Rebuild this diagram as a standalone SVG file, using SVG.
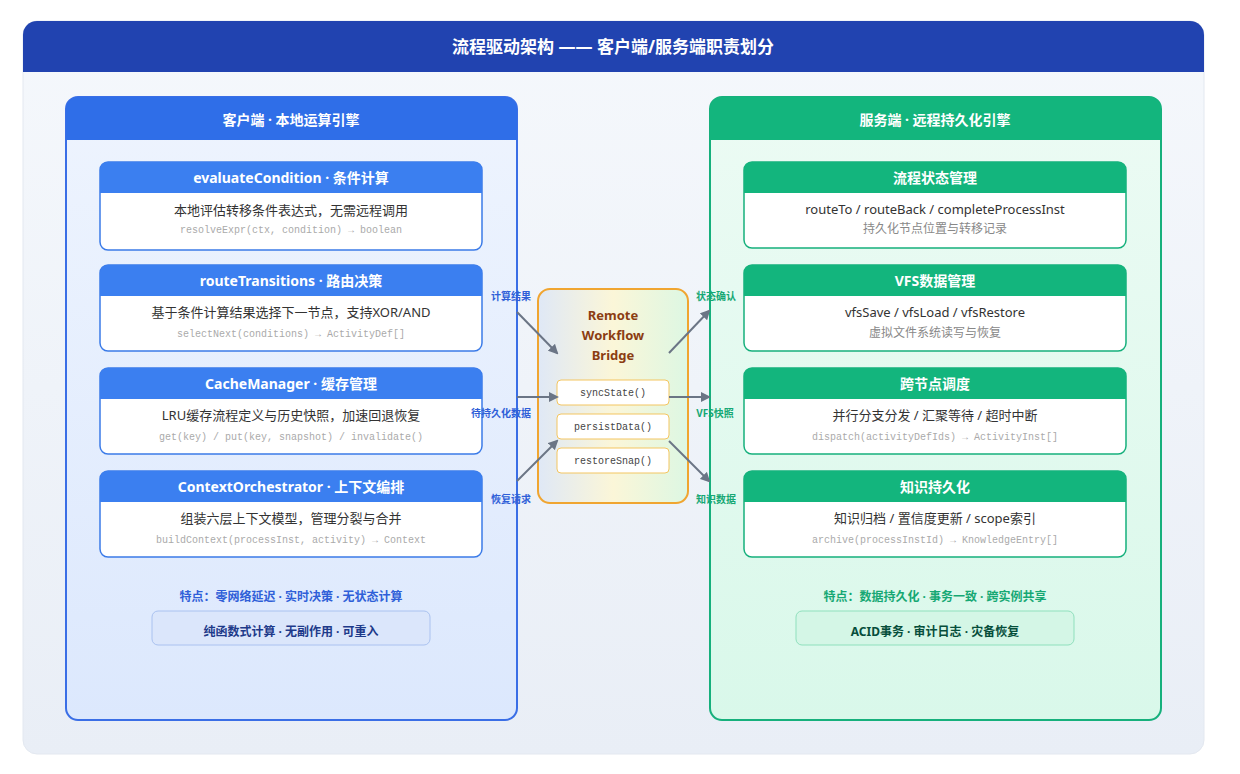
<svg xmlns="http://www.w3.org/2000/svg" width="1240" height="774" viewBox="0 0 1240 774">
<defs>
<style>
text{font-family:"Noto Sans","Noto Sans CJK SC",sans-serif;text-anchor:middle}
.t{fill:#fff;font-weight:700;font-size:14px}
.d{fill:#333;font-size:13px}
.m{fill:#aaa;font-size:10px;font-family:"Liberation Mono","Noto Sans CJK SC",monospace}
.lb{fill:#2f5fd8;font-weight:700;font-size:10px}
.lg{fill:#16a874;font-weight:700;font-size:10px}
.nb{fill:#fff;stroke:#3b7be8;stroke-width:1.5}
.ng{fill:#fff;stroke:#16b07c;stroke-width:1.5}
.hb{fill:#3b7ff0}
.hg{fill:#13b57d}
.mb{fill:#fff;stroke:#f3c560;stroke-width:1}
.mt{fill:#444;font-size:10px;font-family:"Liberation Mono",monospace}
.c{stroke:#6b7585;stroke-width:2;fill:none;marker-end:url(#a)}
</style>
<marker id="a" markerWidth="10" markerHeight="10" refX="8" refY="5" orient="auto" markerUnits="userSpaceOnUse"><path d="M0,0 L10,5 L0,10 z" fill="#6b7585"/></marker>
<linearGradient id="lp" x1="0" y1="0" x2="0" y2="1"><stop offset="0" stop-color="#eef4fe"/><stop offset="1" stop-color="#dce8fd"/></linearGradient>
<linearGradient id="rp" x1="0" y1="0" x2="0" y2="1"><stop offset="0" stop-color="#ecfbf4"/><stop offset="1" stop-color="#d9f8ea"/></linearGradient>
<linearGradient id="bg" x1="0" y1="0" x2="1" y2="0"><stop offset="0" stop-color="#dfe8f6"/><stop offset="0.5" stop-color="#fbf6d8"/><stop offset="1" stop-color="#ddf7e3"/></linearGradient>
<linearGradient id="card" x1="0" y1="0" x2="0" y2="1"><stop offset="0" stop-color="#f5f8fc"/><stop offset="1" stop-color="#e9eef6"/></linearGradient>
</defs>
<rect width="1240" height="774" fill="#fff"/>
<rect x="23" y="21" width="1181" height="733" rx="14" fill="url(#card)" stroke="#e3e8f0"/>
<path d="M37,21 H1190 A14,14 0 0 1 1204,35 V72 H23 V35 A14,14 0 0 1 37,21 z" fill="#2143b0"/>
<text x="613" y="53" fill="#fff" font-weight="700" font-size="17">流程驱动架构 —— 客户端/服务端职责划分</text>

<g id="client">
<rect x="66" y="97" width="451" height="623" rx="12" fill="url(#lp)" stroke="#3a6ee6" stroke-width="2"/>
<path d="M78,97 H505 A12,12 0 0 1 517,109 V140 H66 V109 A12,12 0 0 1 78,97 z" fill="#2f6ee8"/>
<text class="t" x="291" y="125" font-size="15">客户端 · 本地运算引擎</text>
<text x="291" y="601" fill="#2f5fd8" font-weight="700" font-size="12">特点：零网络延迟 · 实时决策 · 无状态计算</text>
<rect x="152" y="611" width="278" height="34" rx="6" fill="#dbe6fb" stroke="#aac2f0"/>
<text x="291" y="636" fill="#1e3a8a" font-weight="700" font-size="12">纯函数式计算 · 无副作用 · 可重入</text>
</g>
<g id="n1"><rect class="nb" x="100" y="162" width="382" height="88" rx="8"/><path class="hb" d="M108,162 H474 A8,8 0 0 1 482,170 V193 H100 V170 A8,8 0 0 1 108,162 z"/><text class="t" x="291" y="183">evaluateCondition · 条件计算</text><text class="d" x="291" y="215">本地评估转移条件表达式，无需远程调用</text><text class="m" x="291" y="233">resolveExpr(ctx, condition) → boolean</text></g>
<g id="n2"><rect class="nb" x="100" y="265" width="382" height="86" rx="8"/><path class="hb" d="M108,265 H474 A8,8 0 0 1 482,273 V296 H100 V273 A8,8 0 0 1 108,265 z"/><text class="t" x="291" y="286">routeTransitions · 路由决策</text><text class="d" x="291" y="317">基于条件计算结果选择下一节点，支持XOR/AND</text><text class="m" x="291" y="337">selectNext(conditions) → ActivityDef[]</text></g>
<g id="n3"><rect class="nb" x="100" y="368" width="382" height="86" rx="8"/><path class="hb" d="M108,368 H474 A8,8 0 0 1 482,376 V399 H100 V376 A8,8 0 0 1 108,368 z"/><text class="t" x="291" y="389">CacheManager · 缓存管理</text><text class="d" x="291" y="420">LRU缓存流程定义与历史快照，加速回退恢复</text><text class="m" x="291" y="440">get(key) / put(key, snapshot) / invalidate()</text></g>
<g id="n4"><rect class="nb" x="100" y="471" width="382" height="86" rx="8"/><path class="hb" d="M108,471 H474 A8,8 0 0 1 482,479 V502 H100 V479 A8,8 0 0 1 108,471 z"/><text class="t" x="291" y="492">ContextOrchestrator · 上下文编排</text><text class="d" x="291" y="523">组装六层上下文模型，管理分裂与合并</text><text class="m" x="291" y="543">buildContext(processInst, activity) → Context</text></g>

<g id="server">
<rect x="710" y="97" width="451" height="623" rx="12" fill="url(#rp)" stroke="#16b07c" stroke-width="2"/>
<path d="M722,97 H1149 A12,12 0 0 1 1161,109 V140 H710 V109 A12,12 0 0 1 722,97 z" fill="#13b57d"/>
<text class="t" x="935" y="125" font-size="15">服务端 · 远程持久化引擎</text>
<text x="935" y="601" fill="#16a874" font-weight="700" font-size="12">特点：数据持久化 · 事务一致 · 跨实例共享</text>
<rect x="796" y="611" width="278" height="34" rx="6" fill="#d4f6e6" stroke="#8fe0bd"/>
<text x="935" y="636" fill="#064e3b" font-weight="700" font-size="12">ACID事务 · 审计日志 · 灾备恢复</text>
</g>
<g id="s1"><rect class="ng" x="744" y="162" width="382" height="86" rx="8"/><path class="hg" d="M752,162 H1118 A8,8 0 0 1 1126,170 V193 H744 V170 A8,8 0 0 1 752,162 z"/><text class="t" x="935" y="183">流程状态管理</text><text class="d" x="935" y="214">routeTo / routeBack / completeProcessInst</text><text class="d" x="935" y="233" fill="#888" style="fill:#888;font-size:12px">持久化节点位置与转移记录</text></g>
<g id="s2"><rect class="ng" x="744" y="265" width="382" height="86" rx="8"/><path class="hg" d="M752,265 H1118 A8,8 0 0 1 1126,273 V296 H744 V273 A8,8 0 0 1 752,265 z"/><text class="t" x="935" y="286">VFS数据管理</text><text class="d" x="935" y="317">vfsSave / vfsLoad / vfsRestore</text><text x="935" y="337" style="fill:#888;font-size:12px">虚拟文件系统读写与恢复</text></g>
<g id="s3"><rect class="ng" x="744" y="368" width="382" height="86" rx="8"/><path class="hg" d="M752,368 H1118 A8,8 0 0 1 1126,376 V399 H744 V376 A8,8 0 0 1 752,368 z"/><text class="t" x="935" y="389">跨节点调度</text><text class="d" x="935" y="420">并行分支分发 / 汇聚等待 / 超时中断</text><text class="m" x="935" y="440">dispatch(activityDefIds) → ActivityInst[]</text></g>
<g id="s4"><rect class="ng" x="744" y="471" width="382" height="86" rx="8"/><path class="hg" d="M752,471 H1118 A8,8 0 0 1 1126,479 V502 H744 V479 A8,8 0 0 1 752,471 z"/><text class="t" x="935" y="492">知识持久化</text><text class="d" x="935" y="523">知识归档 / 置信度更新 / scope索引</text><text class="m" x="935" y="543">archive(processInstId) → KnowledgeEntry[]</text></g>

<g id="bridge">
<rect x="538" y="289" width="150" height="214" rx="12" fill="url(#bg)" stroke="#f0a530" stroke-width="2"/>
<text x="613" y="320" fill="#8b3d12" font-weight="700" font-size="13">Remote</text>
<text x="613" y="340" fill="#8b3d12" font-weight="700" font-size="13">Workflow</text>
<text x="613" y="360" fill="#8b3d12" font-weight="700" font-size="13">Bridge</text>
<rect class="mb" x="557" y="380" width="112" height="25" rx="4"/><text class="mt" x="613" y="396">syncState()</text>
<rect class="mb" x="557" y="414" width="112" height="25" rx="4"/><text class="mt" x="613" y="430">persistData()</text>
<rect class="mb" x="557" y="448" width="112" height="25" rx="4"/><text class="mt" x="613" y="464">restoreSnap()</text>
</g>

<g id="connectors">
<path class="c" d="M517,312 L557,353"/>
<path class="c" d="M517,397 L557,397"/>
<path class="c" d="M517,481 L557,441"/>
<path class="c" d="M669,353 L709,311"/>
<path class="c" d="M669,397 L709,397"/>
<path class="c" d="M669,441 L709,481"/>
<text class="lb" x="511" y="300">计算结果</text>
<text class="lb" x="501" y="417">待持久化数据</text>
<text class="lb" x="511" y="503">恢复请求</text>
<text class="lg" x="716" y="300">状态确认</text>
<text class="lg" x="715" y="417">VFS快照</text>
<text class="lg" x="716" y="503">知识数据</text>
</g>
</svg>
